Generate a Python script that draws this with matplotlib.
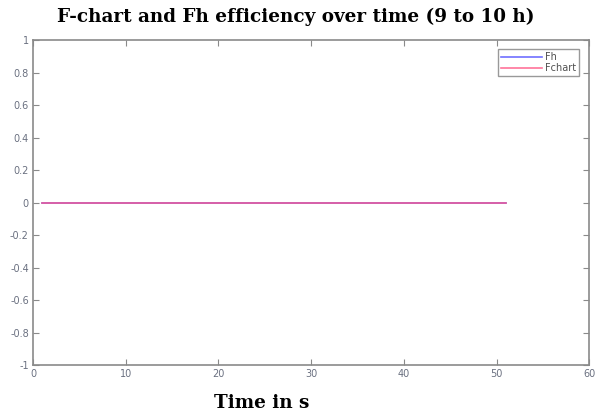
import matplotlib
matplotlib.use("Agg")
import matplotlib.pyplot as plt
import numpy as np

# time samples (s) and efficiencies for the 9-10 h window
time_s = list(range(1, 52))
fh = [0.0] * len(time_s)
fchart = [0.0] * len(time_s)

x_ticks = [0, 10, 20, 30, 40, 50, 60]
y_ticks = [-1, -0.8, -0.6, -0.4, -0.2, 0, 0.2, 0.4, 0.6, 0.8, 1]
y_ticklabels = ["-1", "-0.8", "-0.6", "-0.4", "-0.2", "0", "0.2", "0.4", "0.6", "0.8", "1"]

fig = plt.figure(figsize=(5.95, 4.13), dpi=100)
ax = fig.add_axes([0.0555, 0.116, 0.935, 0.787])

ax.plot(time_s, fh, color="#7070ff", lw=1.2, label="Fh")
ax.plot(time_s, fchart, color="#ff5080", lw=1.2, label="Fchart", alpha=0.8)

ax.set_xlim(0, 60)
ax.set_ylim(-1, 1)
ax.set_xticks(x_ticks)
ax.set_yticks(y_ticks)
ax.set_yticklabels(y_ticklabels)

for s in ax.spines.values():
    s.set_color("#8a8a8a")
    s.set_linewidth(1.2)
ax.tick_params(direction="in", length=4, width=0.8, color="#8a8a8a",
               labelsize=7, labelcolor="#6a7080", top=True, right=True, pad=3)

leg = ax.legend(loc="upper right", fontsize=7, frameon=True, fancybox=False,
                handlelength=4.2, borderpad=0.3, labelspacing=0.1,
                handletextpad=0.3, bbox_to_anchor=(0.99, 0.987))
leg.get_frame().set_edgecolor("#808080")
leg.get_frame().set_linewidth(1.0)
for t in leg.get_texts():
    t.set_color("#505050")

fig.text(0.497, 0.958, "F-chart and Fh efficiency over time (9 to 10 h)",
         ha="center", va="center", family="DejaVu Serif",
         fontweight="bold", fontsize=13.2)
fig.text(0.44, 0.024, "Time in s", ha="center", va="center",
         family="DejaVu Serif", fontweight="bold", fontsize=13.2)

fig.savefig("out.png", dpi=100)
